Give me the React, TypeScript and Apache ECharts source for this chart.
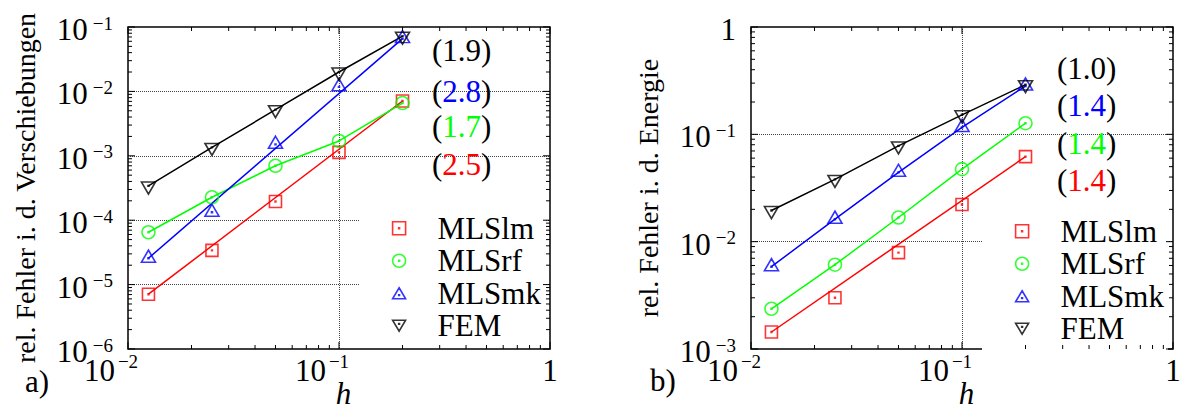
import React, { useEffect, useRef } from 'react';
import * as echarts from 'echarts';

// ---------- data ----------
const hValues = [0.0125, 0.025, 0.05, 0.1, 0.2];
const methodNames = ['MLSlm', 'MLSrf', 'MLSmk', 'FEM'];

// a) relative error in displacements
const lmDisp = [7.1e-6, 3.4e-5, 1.95e-4, 1.13e-3, 7.1e-3];
const rfDisp = [6.5e-5, 2.27e-4, 7.0e-4, 1.7e-3, 6.6e-3];
const mkDisp = [2.57e-5, 1.33e-4, 1.51e-3, 1.18e-2, 6.6e-2];
const femDisp = [3.4e-4, 1.35e-3, 5.2e-3, 2.0e-2, 7.2e-2];

// b) relative error in energy
const lmEn = [0.00144, 0.003, 0.0079, 0.0222, 0.062];
const rfEn = [0.00237, 0.0061, 0.0168, 0.0474, 0.127];
const mkEn = [0.00585, 0.0162, 0.0443, 0.116, 0.282];
const femEn = [0.0195, 0.038, 0.078, 0.152, 0.29];

// indices of the points each drawn line runs through
const lmDispLine = [0, 4];
const rfDispLine = [0, 1, 2, 3, 4];
const mkDispLine = [0, 4];
const femDispLine = [0, 1, 2, 3, 4];
const lmEnLine = [0, 4];
const rfEnLine = [0, 1, 2, 3, 4];
const mkEnLine = [0, 1, 2, 3, 4];
const femEnLine = [0, 1, 2, 3, 4];

// convergence rates (top to bottom: FEM, MLSmk, MLSrf, MLSlm)
const ratesDisp = ['1.9', '2.8', '1.7', '2.5'];
const ratesEn = ['1.0', '1.4', '1.4', '1.4'];

// axis extents (decade exponents)
const xRange = [-2, 0];
const yDispRange = [-6, -1];
const yEnRange = [-3, 0];

// ---------- helpers ----------
function majorTicks(lo: number, hi: number) {
  const out: number[] = [];
  for (let k = lo; k <= hi; k++) out.push(Math.pow(10, k));
  return out;
}
function minorTicks(lo: number, hi: number) {
  const out: number[] = [];
  for (let k = lo; k < hi; k++) for (let m = 2; m <= 9; m++) out.push(m * Math.pow(10, k));
  return out;
}

const FONT = 'Liberation Serif';
const RED = '#ff0000';
const GREEN = '#00ff00';
const BLUE = '#0000ff';
const BLACK = '#000000';

const SQUARE = 'path://M0,0H12V12H0Z M5.6,5.6H6.4V6.4H5.6Z';
const CIRCLE = 'path://M12,6A6,6,0,1,1,0,6A6,6,0,1,1,12,6Z M5.6,5.6H6.4V6.4H5.6Z';
const TRI_UP = 'path://M6.5,0L13,11L0,11Z M6.1,7H6.9V7.8H6.1Z';
const TRI_DOWN = 'path://M0,0L13,0L6.5,11Z M6.1,3.2H6.9V4H6.1Z';

const styles: Record<string, any> = {
  MLSlm: { color: RED, symbol: SQUARE, size: [12, 12], offset: [0, 0] },
  MLSrf: { color: GREEN, symbol: CIRCLE, size: [13, 13], offset: [0, 0] },
  MLSmk: { color: BLUE, symbol: TRI_UP, size: [14, 12], offset: [0, -2] },
  FEM: { color: BLACK, symbol: TRI_DOWN, size: [14, 12], offset: [0, 2] },
};

const GRIDS = [
  { left: 128, top: 27, width: 422, height: 322 },
  { left: 751, top: 27, width: 422, height: 322 },
];

function xLabel(v: number) {
  const k = Math.round(Math.log10(v));
  if (k === 0) return '{b|1}';
  return '{b|10}{s|−' + Math.abs(k) + '}{w| }';
}
function yLabel(v: number) {
  const k = Math.round(Math.log10(v));
  if (k === 0) return '{b|1}';
  return '{b|10}{s|−' + Math.abs(k) + '}';
}
const xRich = {
  b: { fontSize: 31, fontFamily: FONT, color: '#000', lineHeight: 20, verticalAlign: 'middle' },
  s: { fontSize: 19, fontFamily: FONT, color: '#000', lineHeight: 2, padding: [0, 0, 18, 3], verticalAlign: 'middle' },
  w: { width: 34, fontSize: 10, lineHeight: 2, fontFamily: FONT, verticalAlign: 'middle' },
};
const yRich = {
  b: { fontSize: 31, fontFamily: FONT, color: '#000', lineHeight: 6, padding: [5, 0, 0, 0], verticalAlign: 'middle' },
  s: { fontSize: 19, fontFamily: FONT, color: '#000', lineHeight: 6, padding: [0, 0, 8, 5], verticalAlign: 'middle' },
};

function tickSeries(gi: number, axis: 'x' | 'y', majors: number[], minors: number[], ref: number) {
  const data = [
    ...majors.map((v) => (axis === 'x' ? [v, ref, 1] : [ref, v, 1])),
    ...minors.map((v) => (axis === 'x' ? [v, ref, 0] : [ref, v, 0])),
  ];
  return {
    type: 'custom',
    xAxisIndex: gi,
    yAxisIndex: gi,
    silent: true,
    clip: false,
    z: 10,
    dimensions: ['x', 'y', 'm'],
    encode: { x: 0, y: 1 },
    data,
    renderItem: (params: any, api: any) => {
      const cs = params.coordSys;
      const p = api.coord([api.value(0), api.value(1)]);
      const len = api.value(2) ? 7 : 4;
      const st = { stroke: '#000', lineWidth: 1 };
      if (axis === 'x') {
        const x = p[0];
        return {
          type: 'group',
          children: [
            { type: 'line', shape: { x1: x, y1: cs.y + cs.height, x2: x, y2: cs.y + cs.height - len }, style: st },
            { type: 'line', shape: { x1: x, y1: cs.y, x2: x, y2: cs.y + len }, style: st },
          ],
        };
      }
      const y = p[1];
      return {
        type: 'group',
        children: [
          { type: 'line', shape: { x1: cs.x, y1: y, x2: cs.x + len, y2: y }, style: st },
          { type: 'line', shape: { x1: cs.x + cs.width, y1: y, x2: cs.x + cs.width - len, y2: y }, style: st },
        ],
      };
    },
  };
}

function methodSeries(gi: number, name: string, vals: number[], lineIdx: number[]) {
  const s = styles[name];
  return [
    {
      type: 'line',
      name: name + ' line',
      xAxisIndex: gi,
      yAxisIndex: gi,
      data: lineIdx.map((i) => [hValues[i], vals[i]]),
      symbol: 'none',
      showSymbol: false,
      silent: true,
      lineStyle: { color: s.color, width: 1.5 },
      z: 2,
    },
    {
      type: 'scatter',
      name,
      xAxisIndex: gi,
      yAxisIndex: gi,
      data: hValues.map((h, i) => [h, vals[i]]),
      symbol: s.symbol,
      symbolSize: s.size,
      symbolOffset: s.offset,
      silent: true,
      itemStyle: { color: 'rgba(0,0,0,0)', borderColor: s.color, borderWidth: 1.6 },
      z: 3,
    },
  ];
}

function annotation(x: number, y: number, val: string, color: string) {
  return {
    type: 'text',
    x,
    y,
    silent: true,
    z: 20,
    style: {
      text: '{p|(}{v|' + val + '}{p|)}',
      fontSize: 31,
      fontFamily: FONT,
      align: 'left',
      verticalAlign: 'middle',
      rich: {
        p: { fill: '#000', fontSize: 31, fontFamily: FONT },
        v: { fill: color, fontSize: 31, fontFamily: FONT },
      },
    },
  };
}

function plainText(x: number, y: number, text: string) {
  return {
    type: 'text',
    x,
    y,
    silent: true,
    style: { text, fontSize: 31, fontFamily: FONT, fill: '#000', align: 'left', verticalAlign: 'middle' },
  };
}

function axisPair(gi: number, yR: number[], yName: string) {
  const xAxis = {
    type: 'log',
    logBase: 10,
    gridIndex: gi,
    min: Math.pow(10, xRange[0]),
    max: Math.pow(10, xRange[1]),
    name: 'h',
    nameLocation: 'middle',
    nameGap: 33,
    nameMoveOverlap: false,
    nameTextStyle: {
      fontSize: 31,
      fontStyle: 'italic',
      fontFamily: FONT,
      color: '#000',
      lineHeight: 22,
      padding: [0, 0, 0, 9],
    },
    axisLine: { show: false },
    axisTick: { show: false },
    axisLabel: { formatter: xLabel, margin: 11.5, color: '#000', fontFamily: FONT, rich: xRich },
    splitLine: { show: true, showMinLine: false, showMaxLine: false, lineStyle: { type: 'dotted', color: '#444', width: 1 } },
  };
  const yAxis = {
    type: 'log',
    logBase: 10,
    gridIndex: gi,
    min: Math.pow(10, yR[0]),
    max: Math.pow(10, yR[1]),
    name: yName,
    nameLocation: 'middle',
    nameGap: 89,
    nameMoveOverlap: false,
    nameTextStyle: { fontSize: 28, fontFamily: FONT, color: '#000' },
    axisLine: { show: false },
    axisTick: { show: false },
    axisLabel: { formatter: yLabel, margin: 15, color: '#000', fontFamily: FONT, rich: yRich },
    splitLine: { show: true, showMinLine: false, showMaxLine: false, lineStyle: { type: 'dotted', color: '#444', width: 1 } },
  };
  return { xAxis, yAxis };
}

function legendFor(left: number, top: number) {
  return {
    data: methodNames,
    orient: 'vertical',
    left,
    top,
    padding: [10, 4, 6, 32.8],
    backgroundColor: '#fff',
    itemWidth: 13,
    itemHeight: 13,
    itemGap: 0,
    selectedMode: false,
    itemStyle: { borderWidth: 1.6 },
    textStyle: { fontSize: 31, fontFamily: FONT, color: '#000', lineHeight: 32.5, padding: [0, 0, 0, 27] },
    z: 4,
  };
}

export default function App() {
  const ref = useRef<HTMLDivElement>(null);
  useEffect(() => {
    if (!ref.current) return;
    const chart = echarts.init(ref.current, null, { renderer: 'svg' });
    const a = axisPair(0, yDispRange, 'rel. Fehler i. d. Verschiebungen');
    const b = axisPair(1, yEnRange, 'rel. Fehler i. d. Energie');
    const midX = [0.1];
    const option: any = {
      animation: false,
      textStyle: { fontFamily: FONT },
      grid: GRIDS.map((g) => ({
        ...g,
        show: true,
        containLabel: false,
        outerBoundsMode: 'none',
        borderColor: '#000',
        borderWidth: 1.5,
        backgroundColor: 'transparent',
      })),
      xAxis: [a.xAxis, b.xAxis],
      yAxis: [a.yAxis, b.yAxis],
      legend: [legendFor(359, 202), legendFor(982, 205)],
      series: [
        ...methodSeries(0, 'MLSlm', lmDisp, lmDispLine),
        ...methodSeries(0, 'MLSrf', rfDisp, rfDispLine),
        ...methodSeries(0, 'MLSmk', mkDisp, mkDispLine),
        ...methodSeries(0, 'FEM', femDisp, femDispLine),
        ...methodSeries(1, 'MLSlm', lmEn, lmEnLine),
        ...methodSeries(1, 'MLSrf', rfEn, rfEnLine),
        ...methodSeries(1, 'MLSmk', mkEn, mkEnLine),
        ...methodSeries(1, 'FEM', femEn, femEnLine),
        tickSeries(0, 'x', majorTicks(xRange[0], xRange[1]), minorTicks(xRange[0], xRange[1]), 1e-3),
        tickSeries(0, 'y', majorTicks(yDispRange[0], yDispRange[1]), minorTicks(yDispRange[0], yDispRange[1]), midX[0]),
        tickSeries(1, 'x', majorTicks(xRange[0], xRange[1]), minorTicks(xRange[0], xRange[1]), 1e-2),
        tickSeries(1, 'y', majorTicks(yEnRange[0], yEnRange[1]), minorTicks(yEnRange[0], yEnRange[1]), midX[0]),
      ],
      graphic: [
        annotation(432, 50, ratesDisp[0], BLACK),
        annotation(432, 91.7, ratesDisp[1], BLUE),
        annotation(432, 126.7, ratesDisp[2], GREEN),
        annotation(432, 164, ratesDisp[3], RED),
        annotation(1057, 68.3, ratesEn[0], BLACK),
        annotation(1057, 105, ratesEn[1], BLUE),
        annotation(1057, 143.8, ratesEn[2], GREEN),
        annotation(1057, 180, ratesEn[3], RED),
        plainText(25, 381, 'a)'),
        plainText(650, 380, 'b)'),
      ],
    };
    chart.setOption(option);
    return () => chart.dispose();
  }, []);
  return <div ref={ref} style={{ position: 'absolute', left: 0, top: 0, width: 1188, height: 410 }} />;
}
